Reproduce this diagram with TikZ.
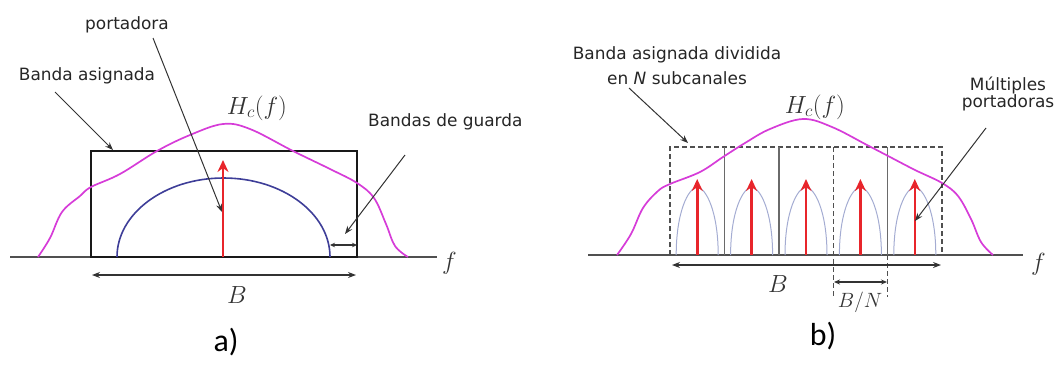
\documentclass[tikz,border=0pt]{standalone}
\usepackage{fontspec}
\setmainfont{DejaVu Sans}
\newfontfamily\calib{Carlito}
\usetikzlibrary{arrows.meta}
\definecolor{carrred}{HTML}{E8252B}
\definecolor{pinkc}{HTML}{D63CD8}
\definecolor{bluea}{HTML}{3E3E98}
\definecolor{blueb}{HTML}{A4ACD2}
\definecolor{greyd}{HTML}{505050}
\begin{document}
\begin{tikzpicture}[x=1bp,y=-1bp,
  lbl/.style={font=\fontsize{17}{19}\selectfont, text=black!85, inner sep=0pt, align=center},
  mth/.style={inner sep=0pt, font=\fontsize{23}{24}\selectfont, text=black!80},
  ptr/.style={draw=black!80, line width=1bp, -{Stealth[length=8bp,width=6bp]}},
  dim/.style={draw=black!80, line width=1.1bp, {Stealth[length=8bp,width=6bp]}-{Stealth[length=8bp,width=6bp]}},
  axisline/.style={draw=greyd, line width=1.5bp},
  carrier/.style={draw=carrred, line width=2.8bp, -{Stealth[length=12bp,width=11bp]}},
  hcurve/.style={draw=pinkc, line width=1.7bp},
  sub/.style={draw=blueb, line width=1bp},
  dashbox/.style={draw=greyd, line width=1.3bp, dash pattern=on 5bp off 3bp},
  solidsep/.style={draw=greyd!85, line width=1.5bp},
  panel/.style={inner sep=0pt, font=\calib\fontsize{32}{34}\selectfont}]
\useasboundingbox (0,0) rectangle (1056,364);

% ===================== panel a =====================
\draw[axisline] (10,257) -- (437,257);
\node[mth, font=\fontsize{27}{28}\selectfont, anchor=west] (fa) at (442,263) {$f$};
\draw[black!90, line width=1.1bp] (91,151) rectangle (357,257);
\draw[hcurve] plot[smooth, tension=0.6] coordinates {(38,257) (50,238) (62,212) (80,196) (91,187) (120,174) (157,151) (190,135) (223,124) (250,129) (293,151) (330,169) (357,183) (374,198) (386,224) (395,246) (408,257)};
\draw[draw=bluea, line width=1.6bp] (117,257) arc[start angle=180, end angle=360, x radius=106.5, y radius=79];
\coordinate (ca0) at (223,257);
\coordinate (ca1) at (223,160);
\draw[carrier] (ca0) -- (ca1);
\node[mth] (hca) at (257,108) {$H_c(f)$};

\node[lbl] (port) at (127,25) {portadora};
\coordinate (port0) at (153,38);
\coordinate (port1) at (222,212);
\draw[ptr] (port0) -- (port1);

\node[lbl] (band) at (87,76) {Banda asignada};
\coordinate (band0) at (55,92);
\coordinate (band1) at (113,150);
\draw[ptr] (band0) -- (band1);

\node[lbl, anchor=west] (guard) at (368,122) {Bandas de guarda};
\coordinate (guard0) at (405,155);
\coordinate (guard1) at (345,234);
\draw[ptr] (guard0) -- (guard1);
\coordinate (ga) at (330,245);
\coordinate (gb) at (357,245);
\draw[dim, {Stealth[length=5bp,width=4.5bp]}-{Stealth[length=5bp,width=4.5bp]}] (ga) -- (gb);

\coordinate (Ba0) at (92,275);
\coordinate (Ba1) at (356,275);
\draw[dim] (Ba0) -- (Ba1);
\node[mth] (Ba) at (237,295) {$B$};
\node[panel] (pa) at (226,342) {a)};

% ===================== panel b =====================
\draw[axisline] (588,255) -- (1023,255);
\node[mth, font=\fontsize{27}{28}\selectfont, anchor=west] (fb) at (1031,264) {$f$};

% subchannel arcs and carriers
\foreach \c in {697.2,751.6,806,860.4,914.8}{
  \draw[sub] (\c-21,255) .. controls (\c-21,212) and (\c-9,188) .. (\c,187)
             .. controls (\c+9,188) and (\c+21,212) .. (\c+21,255);
}
\foreach \c/\n in {697.2/1,751.6/2,806/3,860.4/4,914.8/5}{
  \coordinate (cb\n0) at (\c,255);
  \coordinate (cb\n1) at (\c,179);
  \draw[carrier, line width=2.6bp] (cb\n0) -- (cb\n1);
}

% box
\draw[dashbox] (670,255) -- (670,147) -- (942,147) -- (942,255);
\draw[solidsep] (724.4,147) -- (724.4,255);
\draw[solidsep] (778.8,147) -- (778.8,255);
\draw[dashbox] (833.2,147) -- (833.2,297);
\draw[solidsep] (887.6,147) -- (887.6,255);
\draw[dashbox] (887.6,255) -- (887.6,297);

\draw[hcurve] plot[smooth, tension=0.6] coordinates {(617,255) (631,234) (643,208) (658,191) (670,184) (700,172) (723,157) (745,143) (770,129) (803,119) (832,127) (867,145) (890,157) (915,170) (942,183) (958,196) (971,219) (981,242) (993,255)};
\node[mth] (hcb) at (815,107) {$H_c(f)$};

\node[lbl, font=\fontsize{17}{25}\selectfont] (bandb) at (677,66) {Banda asignada dividida\\en \textit{N} subcanales};
\coordinate (bandb0) at (629,88);
\coordinate (bandb1) at (688,143);
\draw[ptr] (bandb0) -- (bandb1);

\node[lbl, font=\fontsize{17}{18}\selectfont] (mult) at (1008,94) {Múltiples\\portadoras};
\coordinate (mult0) at (986,128);
\coordinate (mult1) at (915,221);
\draw[ptr] (mult0) -- (mult1);

\coordinate (Bb0) at (672,265);
\coordinate (Bb1) at (941,265);
\draw[dim] (Bb0) -- (Bb1);
\node[mth] (Bb) at (778,284) {$B$};

\coordinate (BN0) at (834,282);
\coordinate (BN1) at (887,282);
\draw[dim, {Stealth[length=6bp,width=5bp]}-{Stealth[length=6bp,width=5bp]}] (BN0) -- (BN1);
\node[mth, font=\fontsize{20}{22}\selectfont] (BN) at (860,302) {$B/N$};
\node[panel] (pb) at (823,336) {b)};
\end{tikzpicture}
\end{document}
